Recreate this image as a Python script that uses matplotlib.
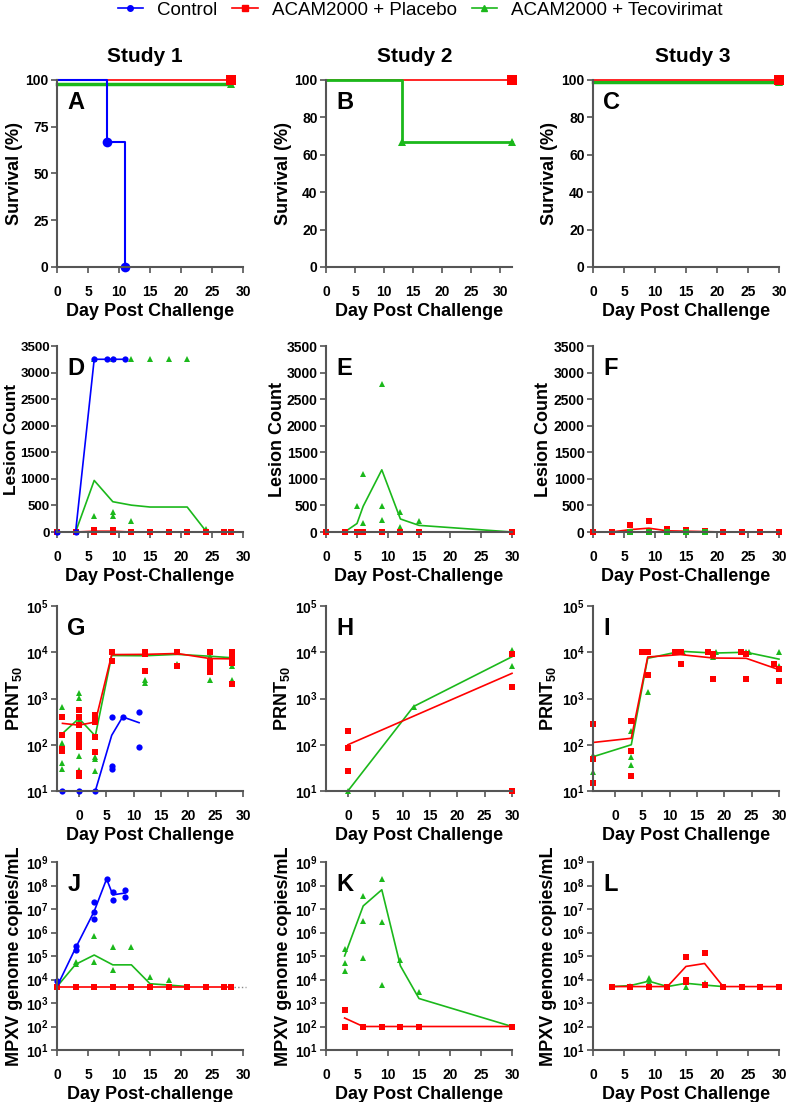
import matplotlib
matplotlib.use("Agg")
import matplotlib.pyplot as plt
from matplotlib.lines import Line2D

plt.rcParams['font.family'] = ['Liberation Sans', 'DejaVu Sans']
plt.rcParams['font.weight'] = 'bold'
plt.rcParams['mathtext.fontset'] = 'custom'
plt.rcParams['mathtext.rm'] = 'Liberation Sans:bold'
plt.rcParams['mathtext.bf'] = 'Liberation Sans:bold'
plt.rcParams['mathtext.default'] = 'bf'

BLUE = '#0000ff'
RED = '#ff0000'
GREEN = '#1bb81b'

LABELS = ['Control', 'ACAM2000 + Placebo', 'ACAM2000 + Tecovirimat']
STUDIES = ['Study 1', 'Study 2', 'Study 3']

# ---- survival (A-C) ----
A_CTRL_DAY = [0, 8, 11]
A_CTRL_SURV = [100, 66.7, 0]
A_PBO_DAY = [0, 28]
A_PBO_SURV = [100, 100]
A_TPOXX_DAY = [0, 28]
A_TPOXX_SURV = [98, 98]

B_PBO_DAY = [0, 32]
B_PBO_SURV = [100, 100]
B_TPOXX_DAY = [0, 13, 32]
B_TPOXX_SURV = [100, 66.7, 66.7]

C_PBO_DAY = [0, 30]
C_PBO_SURV = [100, 100]
C_TPOXX_DAY = [0, 30]
C_TPOXX_SURV = [99, 99]

# ---- lesion counts (D-F) ----
D_CTRL_MEAN_DAY = [0, 3, 6, 8, 9, 11]
D_CTRL_MEAN = [0, 0, 3250, 3250, 3250, 3250]
D_CTRL_PT_DAY = [0, 3, 6, 8, 9, 11]
D_CTRL_PT = [0, 0, 3250, 3250, 3250, 3250]
D_TPOXX_MEAN_DAY = [0, 3, 6, 9, 12, 15, 18, 21, 24]
D_TPOXX_MEAN = [0, 0, 970, 570, 505, 470, 470, 470, 20]
D_TPOXX_PT_DAY = [6, 9, 12, 15, 18, 21, 6, 9, 9, 12, 24, 0, 3]
D_TPOXX_PT = [3250, 3250, 3250, 3250, 3250, 3250, 310, 370, 300, 210, 50, 0, 0]
D_PBO_MEAN_DAY = [0, 3, 6, 9, 12, 15, 18, 21, 24, 27, 28]
D_PBO_MEAN = [0, 0, 15, 15, 0, 0, 0, 0, 0, 0, 0]
D_PBO_PT_DAY = [0, 3, 6, 6, 9, 9, 12, 15, 18, 21, 24, 27, 28]
D_PBO_PT = [0, 0, 0, 30, 0, 30, 0, 0, 0, 0, 0, 0, 0]

E_TPOXX_MEAN_DAY = [0, 3, 5, 6, 9, 12, 15, 30]
E_TPOXX_MEAN = [0, 0, 160, 485, 1170, 245, 125, 0]
E_TPOXX_PT_DAY = [5, 6, 6, 9, 9, 9, 12, 12, 15, 15, 30]
E_TPOXX_PT = [480, 1090, 170, 2790, 490, 220, 380, 100, 210, 0, 0]
E_PBO_DAY = [0, 3, 5, 6, 9, 12, 15, 30]
E_PBO = [0, 0, 0, 0, 0, 0, 0, 0]

F_PBO_MEAN_DAY = [0, 3, 6, 9, 12, 15, 18, 21, 24, 27, 30]
F_PBO_MEAN = [0, 0, 45, 72, 22, 15, 8, 0, 0, 0, 0]
F_PBO_PT_DAY = [0, 3, 6, 9, 12, 15, 18, 21, 24, 27, 30, 6, 9, 12, 15, 18]
F_PBO_PT = [0, 0, 0, 0, 0, 0, 0, 0, 0, 0, 0, 125, 200, 55, 45, 20]
F_TPOXX_DAY = [0, 3, 6, 9, 12, 15, 18, 21, 24, 27, 30]
F_TPOXX = [0, 0, 0, 0, 0, 0, 0, 0, 0, 0, 0]

# ---- PRNT50 (G-I) ----
G_CTRL_MEAN_DAY = [-3, 0, 3, 6, 8, 11]
G_CTRL_MEAN = [10, 10, 10, 160, 400, 300]
G_CTRL_PT_DAY = [-3, 0, 3, 6, 6, 6, 8, 11, 11]
G_CTRL_PT = [10, 10, 10, 400, 35, 30, 400, 520, 88]
G_PBO_MEAN_DAY = [-3, 0, 3, 6, 12, 18, 24, 28]
G_PBO_MEAN = [290, 265, 310, 8900, 9000, 9400, 7300, 7200]
G_PBO_PT_DAY = [-3, -3, -3, -3, 0, 0, 0, 0, 0, 0, 0, 0, 3, 3, 3, 3, 3,
                6, 6, 6, 12, 12, 12, 18, 18, 24, 24, 24, 24, 28, 28, 28, 28, 28]
G_PBO_PT = [400, 160, 80, 73, 570, 400, 265, 160, 120, 90, 24, 21, 450, 400, 310, 150, 68,
            10000, 10000, 6500, 10000, 9000, 4000, 10000, 5000, 10000, 6500, 5000, 3700,
            10000, 8000, 7000, 6000, 2100]
G_TPOXX_MEAN_DAY = [-3, 0, 3, 6, 12, 18, 24, 28]
G_TPOXX_MEAN = [175, 370, 155, 8500, 8400, 9000, 8200, 7600]
G_TPOXX_PT_DAY = [-3, -3, -3, -3, -3, 0, 0, 0, 0, 0, 0, 3, 3, 3, 6, 12, 12, 12,
                  18, 18, 24, 24, 24, 28, 28, 28]
G_TPOXX_PT = [660, 110, 77, 40, 30, 1290, 1030, 330, 95, 57, 28, 55, 48, 27, 10000,
              10000, 2500, 2200, 10000, 5700, 8500, 4000, 2500, 5000, 2500, 2300]

H_PBO_MEAN_DAY = [0, 30]
H_PBO_MEAN = [100, 3500]
H_PBO_PT_DAY = [0, 0, 0, 30, 30, 30]
H_PBO_PT = [200, 85, 27, 9000, 1800, 10]
H_TPOXX_MEAN_DAY = [0, 12, 30]
H_TPOXX_MEAN = [10, 670, 8000]
H_TPOXX_PT_DAY = [0, 12, 30, 30]
H_TPOXX_PT = [10, 670, 11000, 5000]

I_PBO_MEAN_DAY = [-4, 3, 6, 12, 18, 24, 30]
I_PBO_MEAN = [112, 138, 7900, 8900, 7500, 7400, 4200]
I_PBO_PT_DAY = [-4, -4, -4, 3, 3, 3, 5, 6, 6, 11, 12, 12, 17, 18, 18, 23, 24, 24, 29, 30, 30]
I_PBO_PT = [280, 48, 15, 325, 72, 21, 10000, 10000, 3150, 10000, 10000, 5600,
            10000, 9000, 2650, 10000, 9000, 2650, 5500, 4400, 2350]
I_TPOXX_MEAN_DAY = [-4, 3, 6, 12, 18, 24, 30]
I_TPOXX_MEAN = [55, 100, 7400, 10500, 9600, 10000, 7100]
I_TPOXX_PT_DAY = [-4, -4, 3, 3, 3, 6, 12.5, 18, 18.5, 24, 24.5, 30, 30]
I_TPOXX_PT = [60, 26, 200, 55, 36, 1400, 10000, 8000, 10000, 10000, 10000, 10000, 5000]

# ---- viral DNA (J-L) ----
J_CTRL_MEAN_DAY = [0, 3, 6, 8, 9, 11]
J_CTRL_MEAN = [5000, 2.2e5, 8e6, 1.9e8, 4e7, 4.8e7]
J_CTRL_PT_DAY = [0, 3, 3, 6, 6, 6, 8, 9, 9, 11, 11]
J_CTRL_PT = [9000, 2.7e5, 1.8e5, 1.9e7, 7.4e6, 3.9e6, 1.9e8, 5.1e7, 2.4e7, 6.2e7, 3.1e7]
J_TPOXX_MEAN_DAY = [0, 3, 6, 9, 12, 15, 18, 21]
J_TPOXX_MEAN = [5000, 4.4e4, 1.1e5, 4.2e4, 4.2e4, 6600, 5800, 5000]
J_TPOXX_PT_DAY = [3, 3, 6, 6, 9, 9, 12, 15, 18]
J_TPOXX_PT = [5.3e4, 4.5e4, 6.8e5, 5.8e4, 2.3e5, 2.5e4, 2.5e5, 1.3e4, 1e4]
J_PBO_DAY = [0, 3, 6, 9, 12, 15, 18, 21, 24, 27, 28]
J_PBO = [5000, 5000, 5000, 5000, 5000, 5000, 5000, 5000, 5000, 5000, 5000]
J_LOD_DAY = [28.5, 30.5]
J_LOD = [5000, 5000]

K_TPOXX_MEAN_DAY = [3, 6, 9, 12, 15, 30]
K_TPOXX_MEAN = [1e5, 1.35e7, 6.6e7, 3.8e4, 1550, 100]
K_TPOXX_PT_DAY = [3, 3, 3, 6, 6, 6, 9, 9, 9, 12, 15]
K_TPOXX_PT = [1.95e5, 4.8e4, 2.3e4, 3.7e7, 3e6, 8.3e4, 1.9e8, 2.9e6, 5800, 7e4, 2900]
K_PBO_MEAN_DAY = [3, 6, 9, 12, 15, 30]
K_PBO_MEAN = [230, 100, 100, 100, 100, 100]
K_PBO_PT_DAY = [3, 3, 6, 9, 12, 15, 30]
K_PBO_PT = [500, 100, 100, 100, 100, 100, 100]

L_PBO_MEAN_DAY = [3, 6, 9, 12, 15, 18, 21, 24, 27, 30]
L_PBO_MEAN = [5000, 5000, 5000, 5000, 3.6e4, 4.8e4, 5000, 5000, 5000, 5000]
L_PBO_PT_DAY = [3, 6, 9, 12, 15, 15, 15, 18, 18, 21, 24, 27, 30]
L_PBO_PT = [5000, 5000, 5000, 5000, 9e4, 1e4, 7800, 1.3e5, 5600, 5000, 5000, 5000, 5000]
L_TPOXX_MEAN_DAY = [3, 6, 9, 12, 15, 18, 21]
L_TPOXX_MEAN = [5000, 5500, 8500, 5000, 6900, 5800, 5000]
L_TPOXX_PT_DAY = [6, 9, 9, 15, 18]
L_TPOXX_PT = [5500, 1.2e4, 8000, 5000, 7000]

fig = plt.figure(figsize=(7.87, 11.02), dpi=100)

# axes boxes in pixels (left, right) / (top, bottom) of the reference
COL_X = [(57, 243), (326, 512), (593, 779)]
ROW_Y = [(80, 267), (346, 532), (606, 791), (862, 1050)]


def make_ax(r, c):
    x0, x1 = COL_X[c]
    y0, y1 = ROW_Y[r]
    return fig.add_axes([x0 / 787, 1 - y1 / 1102, (x1 - x0) / 787, (y1 - y0) / 1102])


def style(ax, letter, xlabel, ylabel, ylab_px=34, tick_size=10, ylab_size=13):
    for s in ['top', 'right']:
        ax.spines[s].set_visible(False)
    for s in ['left', 'bottom']:
        ax.spines[s].set_color('#555555')
        ax.spines[s].set_linewidth(1.5)
    ax.tick_params(axis='both', length=4, width=1.2, color='#555555', labelsize=10)
    ax.tick_params(axis='x', pad=9)
    ax.tick_params(axis='y', pad=2, labelsize=tick_size)
    ax.set_xlabel(xlabel, fontsize=13, fontweight='bold', labelpad=3)
    ax.set_ylabel(ylabel, fontsize=ylab_size, fontweight='bold')
    ax.yaxis.set_label_coords(-ylab_px / 186, 0.5)
    ax.text(0.055, 0.94, letter, transform=ax.transAxes, fontsize=17,
            fontweight='bold', va='top', ha='left')


def mean_line(ax, x, y, color, lw=1.2):
    ax.plot(x, y, color=color, lw=lw, clip_on=False)


def points(ax, x, y, color, marker, ms):
    ax.plot(x, y, ls='none', marker=marker, color=color, ms=ms, mew=0, clip_on=False)


def log_axis(ax, top_exp):
    ax.set_yscale('log')
    ax.set_ylim(10, 10 ** top_exp)
    ticks = [10 ** e for e in range(1, top_exp + 1)]
    ax.set_yticks(ticks)
    ax.set_yticklabels([r'$10^{%d}$' % e for e in range(1, top_exp + 1)])
    ax.minorticks_off()


def survival(ax, x, y, color, marker, mark_idx, ms, lw):
    ax.plot(x, y, color=color, lw=lw, drawstyle='steps-post', clip_on=False)
    ax.plot([x[i] for i in mark_idx], [y[i] for i in mark_idx], ls='none',
            marker=marker, color=color, ms=ms, mew=0, clip_on=False)


# ---- row 1: survival ----
ax = make_ax(0, 0)
survival(ax, A_TPOXX_DAY, A_TPOXX_SURV, GREEN, '^', [1], 6, 2.5)
survival(ax, A_PBO_DAY, A_PBO_SURV, RED, 's', [1], 7, 1.2)
survival(ax, A_CTRL_DAY, A_CTRL_SURV, BLUE, 'o', [1, 2], 7, 1.5)
ax.set_xlim(0, 30)
ax.set_ylim(0, 100)
ax.set_xticks(range(0, 31, 5))
ax.set_yticks([0, 25, 50, 75, 100])
style(ax, 'A', 'Day Post Challenge', 'Survival (%)')

ax = make_ax(0, 1)
survival(ax, B_PBO_DAY, B_PBO_SURV, RED, 's', [1], 7, 1.2)
survival(ax, B_TPOXX_DAY, B_TPOXX_SURV, GREEN, '^', [1, 2], 6, 2.0)
ax.set_xlim(0, 32)
ax.set_ylim(0, 100)
ax.set_xticks(range(0, 31, 5))
ax.set_yticks(range(0, 101, 20))
style(ax, 'B', 'Day Post Challenge', 'Survival (%)')

ax = make_ax(0, 2)
survival(ax, C_TPOXX_DAY, C_TPOXX_SURV, GREEN, '^', [1], 6, 2.5)
survival(ax, C_PBO_DAY, C_PBO_SURV, RED, 's', [1], 7, 1.2)
ax.set_xlim(0, 30)
ax.set_ylim(0, 100)
ax.set_xticks(range(0, 31, 5))
ax.set_yticks(range(0, 101, 20))
style(ax, 'C', 'Day Post Challenge', 'Survival (%)', 35)

# ---- row 2: lesion counts ----
ax = make_ax(1, 0)
mean_line(ax, D_TPOXX_MEAN_DAY, D_TPOXX_MEAN, GREEN)
points(ax, D_TPOXX_PT_DAY, D_TPOXX_PT, GREEN, '^', 4.5)
mean_line(ax, D_PBO_MEAN_DAY, D_PBO_MEAN, RED)
points(ax, D_PBO_PT_DAY, D_PBO_PT, RED, 's', 4.5)
mean_line(ax, D_CTRL_MEAN_DAY, D_CTRL_MEAN, BLUE)
points(ax, D_CTRL_PT_DAY, D_CTRL_PT, BLUE, 'o', 4.5)
ax.set_xlim(0, 30)
ax.set_ylim(0, 3500)
ax.set_xticks(range(0, 31, 5))
ax.set_yticks(range(0, 3501, 500))
style(ax, 'D', 'Day Post-Challenge', 'Lesion Count', 38, 9.5, 12.5)
ax.tick_params(axis='y', pad=1)

ax = make_ax(1, 1)
mean_line(ax, E_TPOXX_MEAN_DAY, E_TPOXX_MEAN, GREEN)
points(ax, E_TPOXX_PT_DAY, E_TPOXX_PT, GREEN, '^', 4.5)
mean_line(ax, E_PBO_DAY, E_PBO, RED)
points(ax, E_PBO_DAY, E_PBO, RED, 's', 4.5)
ax.set_xlim(0, 30)
ax.set_ylim(0, 3500)
ax.set_xticks(range(0, 31, 5))
ax.set_yticks(range(0, 3501, 500))
style(ax, 'E', 'Day Post-Challenge', 'Lesion Count', 40)

ax = make_ax(1, 2)
mean_line(ax, F_PBO_MEAN_DAY, F_PBO_MEAN, RED)
points(ax, F_PBO_PT_DAY, F_PBO_PT, RED, 's', 4.5)
mean_line(ax, F_TPOXX_DAY, F_TPOXX, '#118811')
points(ax, F_TPOXX_DAY[2:7], F_TPOXX[2:7], GREEN, 's', 4)
ax.set_xlim(0, 30)
ax.set_ylim(0, 3500)
ax.set_xticks(range(0, 31, 5))
ax.set_yticks(range(0, 3501, 500))
style(ax, 'F', 'Day Post-Challenge', 'Lesion Count', 41)

# ---- row 3: PRNT50 ----
ax = make_ax(2, 0)
log_axis(ax, 5)
mean_line(ax, G_TPOXX_MEAN_DAY, G_TPOXX_MEAN, GREEN)
points(ax, G_TPOXX_PT_DAY, G_TPOXX_PT, GREEN, '^', 4.5)
mean_line(ax, G_PBO_MEAN_DAY, G_PBO_MEAN, RED)
points(ax, G_PBO_PT_DAY, G_PBO_PT, RED, 's', 4.5)
mean_line(ax, G_CTRL_MEAN_DAY, G_CTRL_MEAN, BLUE)
points(ax, G_CTRL_PT_DAY, G_CTRL_PT, BLUE, 'o', 4.5)
ax.set_xlim(-4, 30)
ax.set_xticks(range(0, 31, 5))
style(ax, 'G', 'Day Post Challenge', r'PRNT$_{50}$', 33)

ax = make_ax(2, 1)
log_axis(ax, 5)
mean_line(ax, H_TPOXX_MEAN_DAY, H_TPOXX_MEAN, GREEN)
points(ax, H_TPOXX_PT_DAY, H_TPOXX_PT, GREEN, '^', 4.5)
mean_line(ax, H_PBO_MEAN_DAY, H_PBO_MEAN, RED)
points(ax, H_PBO_PT_DAY, H_PBO_PT, RED, 's', 4.5)
ax.set_xlim(-4, 30)
ax.set_xticks(range(0, 31, 5))
style(ax, 'H', 'Day Post Challenge', r'PRNT$_{50}$', 34)

ax = make_ax(2, 2)
log_axis(ax, 5)
mean_line(ax, I_TPOXX_MEAN_DAY, I_TPOXX_MEAN, GREEN)
points(ax, I_TPOXX_PT_DAY, I_TPOXX_PT, GREEN, '^', 4.5)
mean_line(ax, I_PBO_MEAN_DAY, I_PBO_MEAN, RED)
points(ax, I_PBO_PT_DAY, I_PBO_PT, RED, 's', 4.5)
ax.set_xlim(-4, 30)
ax.set_xticks(range(0, 31, 5))
style(ax, 'I', 'Day Post Challenge', r'PRNT$_{50}$', 35)

# ---- row 4: MPXV genome copies ----
ax = make_ax(3, 0)
log_axis(ax, 9)
mean_line(ax, J_TPOXX_MEAN_DAY, J_TPOXX_MEAN, GREEN)
points(ax, J_TPOXX_PT_DAY, J_TPOXX_PT, GREEN, '^', 4.5)
mean_line(ax, J_PBO_DAY, J_PBO, RED)
points(ax, J_PBO_DAY, J_PBO, RED, 's', 4.5)
mean_line(ax, J_CTRL_MEAN_DAY, J_CTRL_MEAN, BLUE)
points(ax, J_CTRL_PT_DAY, J_CTRL_PT, BLUE, 'o', 4.5)
ax.plot(J_LOD_DAY, J_LOD, color='#888888', lw=1, ls=':', clip_on=False)
ax.set_xlim(0, 30)
ax.set_xticks(range(0, 31, 5))
style(ax, 'J', 'Day Post-challenge', 'MPXV genome copies/mL', 34)

ax = make_ax(3, 1)
log_axis(ax, 9)
mean_line(ax, K_TPOXX_MEAN_DAY, K_TPOXX_MEAN, GREEN)
points(ax, K_TPOXX_PT_DAY, K_TPOXX_PT, GREEN, '^', 4.5)
mean_line(ax, K_PBO_MEAN_DAY, K_PBO_MEAN, RED)
points(ax, K_PBO_PT_DAY, K_PBO_PT, RED, 's', 4.5)
ax.set_xlim(0, 30)
ax.set_xticks(range(0, 31, 5))
style(ax, 'K', 'Day Post Challenge', 'MPXV genome copies/mL', 34)

ax = make_ax(3, 2)
log_axis(ax, 9)
mean_line(ax, L_TPOXX_MEAN_DAY, L_TPOXX_MEAN, GREEN)
points(ax, L_TPOXX_PT_DAY, L_TPOXX_PT, GREEN, '^', 4.5)
mean_line(ax, L_PBO_MEAN_DAY, L_PBO_MEAN, RED)
points(ax, L_PBO_PT_DAY, L_PBO_PT, RED, 's', 4.5)
ax.set_xlim(0, 30)
ax.set_xticks(range(0, 31, 5))
style(ax, 'L', 'Day Post Challenge', 'MPXV genome copies/mL', 36)

# study titles
for name, xc in zip(STUDIES, [145, 415, 693]):
    fig.text(xc / 787, 1 - 57 / 1102, name, ha='center', va='center',
             fontsize=15, fontweight='bold')

# legend
handles = [Line2D([], [], color=BLUE, marker='o', ms=4, lw=1.2),
           Line2D([], [], color=RED, marker='s', ms=4, lw=1.2),
           Line2D([], [], color=GREEN, marker='^', ms=4, lw=1.2)]
fig.legend(handles, LABELS, loc='center', bbox_to_anchor=(0.534, 1 - 10 / 1102),
           ncol=3, frameon=False, prop={'weight': 'normal', 'size': 13.5},
           handlelength=1.35, columnspacing=0.8, handletextpad=0.75)

fig.savefig('out.png', dpi=100)
